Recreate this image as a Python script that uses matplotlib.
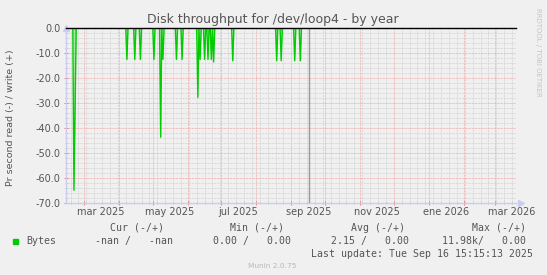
import numpy as np
import pandas as pd
import matplotlib
matplotlib.use("Agg")
import matplotlib.pyplot as plt
import matplotlib.dates as mdates
import matplotlib.transforms as mtrans

# spikes (read bytes shown as negative values)
spike_dates = ["2025-02-20", "2025-02-21", "2025-04-08", "2025-04-15", "2025-04-20", "2025-05-02",
               "2025-05-08", "2025-05-10", "2025-05-22", "2025-05-27", "2025-06-10",
               "2025-06-12", "2025-06-16", "2025-06-19", "2025-06-22", "2025-06-24",
               "2025-07-11", "2025-08-19", "2025-08-23", "2025-09-04", "2025-09-09"]
spike_values = [-65.0, -32.0, -12.5, -12.5, -12.5, -12.5,
                -43.7, -12.5, -12.5, -12.5, -27.7,
                -12.5, -12.5, -12.5, -12.5, -13.5,
                -13.0, -13.0, -13.0, -13.0, -13.0]

data_start = "2025-02-12"
last_update = "2025-09-16 15:15"
view_start = "2025-02-12 12:00"
view_end = "2026-03-19 12:00"

month_labels = ["mar 2025", "may 2025", "jul 2025", "sep 2025", "nov 2025", "ene 2026", "mar 2026"]
label_dates = ["2025-03-16", "2025-05-16", "2025-07-16", "2025-09-16", "2025-11-16", "2026-01-16", "2026-03-16"]

legend_head = ["Cur (-/+)", "Min (-/+)", "Avg (-/+)", "Max (-/+)"]
legend_vals = ["-nan /   -nan", "0.00 /   0.00", "2.15 /   0.00", "11.98k/   0.00"]

W, H = 547, 275
def fx(x):
    return x / W
def fy(y):
    return 1 - y / H

bg = "#f0f0f0"
green = "#00cc00"
txt = "#555555"

days = pd.date_range(data_start, pd.Timestamp(last_update).normalize(), freq="D")
series = pd.Series(0.0, index=days)
for d, v in zip(spike_dates, spike_values):
    series[pd.Timestamp(d)] = v

fig = plt.figure(figsize=(W / 100, H / 100), dpi=100, facecolor=bg)
ax = fig.add_axes([fx(65.5), 1 - 202.7 / H, (516 - 65.5) / W, (202.7 - 28.3) / H])
ax.set_facecolor(bg)

ax.fill_between(series.index, series.values, 0, color=green, alpha=0.3, lw=0, zorder=3)
ax.plot(series.index, series.values, color=green, lw=1.0, zorder=4)
ax.axvline(pd.Timestamp(last_update), color="#999999", lw=1.0, zorder=5)
ax.axhline(0, color="black", lw=1.0, zorder=6, clip_on=False)

ax.set_xlim(pd.Timestamp(view_start), pd.Timestamp(view_end))
ax.set_ylim(-70, 0)

# grid
dot = (0, (0.75, 0.75))
ax.xaxis.set_major_locator(mdates.MonthLocator())
ax.xaxis.set_minor_locator(mdates.WeekdayLocator(byweekday=mdates.MO))
ax.xaxis.set_major_formatter(plt.NullFormatter())
ax.yaxis.set_major_locator(plt.MultipleLocator(10))
ax.yaxis.set_minor_locator(plt.MultipleLocator(2))
ax.yaxis.set_major_formatter(plt.FuncFormatter(lambda v, p: "%.1f" % v))
ax.grid(which="major", color="#f2a8a8", linestyle=dot, lw=0.7, zorder=1)
ax.grid(which="minor", color="#d2d2d2", linestyle=dot, lw=0.7, zorder=0)
ax.set_axisbelow(True)

for s in ["top", "right"]:
    ax.spines[s].set_visible(False)
for s in ["left", "bottom"]:
    ax.spines[s].set_color("#ccccf0")
    ax.spines[s].set_linewidth(1.0)

ax.tick_params(which="major", length=3, direction="inout", color="#f08080", width=0.7,
               labelsize=7, labelcolor=txt, pad=2)
ax.tick_params(which="minor", length=2, direction="inout", color="#bbbbbb", width=0.7)

# month labels centred in the month
lab_tr = mtrans.blended_transform_factory(ax.transData, ax.transAxes)
for d, lab in zip(label_dates, month_labels):
    ax.text(pd.Timestamp(d), -0.055, lab, transform=lab_tr, ha="center", va="center",
            fontsize=7, color=txt, clip_on=False)

# axis arrows
ax.plot([0], [1.0], marker="^", markersize=5, color="#ccccf0", transform=ax.transAxes, clip_on=False)
ax.plot([1.01], [0], marker=">", markersize=5, color="#ccccf0", transform=ax.transAxes, clip_on=False)

# texts
fig.text(fx(273), fy(20), "Disk throughput for /dev/loop4 - by year", ha="center", va="center",
         fontsize=9, color=txt)
fig.text(fx(11), fy(118), "Pr second read (-) / write (+)", rotation=90, ha="center", va="center",
         fontsize=6.8, color=txt)
fig.text(fx(538), fy(8), "RRDTOOL / TOBI OETIKER", rotation=270, ha="center", va="top",
         fontsize=5, color="#c4c4c4")

mono = "DejaVu Sans Mono"
head_right = [164, 284, 405, 526]
val_right = [173, 291, 409, 526]
for s, x in zip(legend_head, head_right):
    fig.text(fx(x), fy(228), s, ha="right", va="center", family=mono, fontsize=7.1, color=txt)
fig.patches.append(plt.Rectangle((fx(13), fy(244)), 5 / W, 5 / H, transform=fig.transFigure,
                                 color=green, figure=fig))
fig.text(fx(26), fy(241), "Bytes", ha="left", va="center", family=mono, fontsize=7.1, color=txt)
for s, x in zip(legend_vals, val_right):
    fig.text(fx(x), fy(241), s, ha="right", va="center", family=mono, fontsize=7.1, color=txt)
fig.text(fx(533), fy(254), "Last update: Tue Sep 16 15:15:13 2025", ha="right", va="center",
         family=mono, fontsize=7.1, color=txt)
fig.text(fx(272), fy(266), "Munin 2.0.75", ha="center", va="center", fontsize=5.3, color="#b8b8b8")

fig.savefig("out.png", dpi=100, facecolor=bg)
